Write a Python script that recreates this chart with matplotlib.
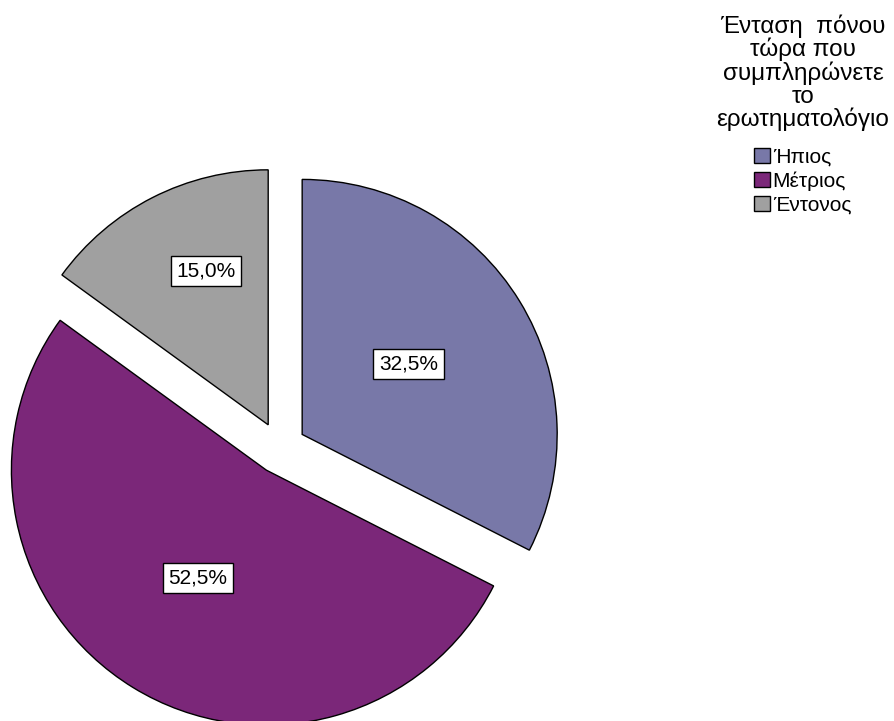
import numpy as np
import matplotlib.pyplot as plt
from matplotlib.patches import Rectangle

plt.rcParams['font.family'] = ['Liberation Sans', 'DejaVu Sans']

title = 'Ένταση  πόνου\nτώρα που\nσυμπληρώνετε\nτο\nερωτηματολόγιο'
categories = ['Ήπιος', 'Μέτριος', 'Έντονος']
percents = [32.5, 52.5, 15.0]
colors = ['#7878a8', '#7b2779', '#a0a0a0']
# where each percent box sits: fraction of radius, angle tweak in degrees
label_dist = [0.5, 0.5, 0.65]
label_turn = [2, -1, -5]

W, H = 894, 721
fig = plt.figure(figsize=(W / 100, H / 100), dpi=100)
ax = fig.add_axes([0, 0, 1, 1])

# pie laid out in pixel units so the sizes are easy to tune
R = 255
wedges, _ = ax.pie(percents, colors=colors, startangle=90, counterclock=False,
                   explode=[26] * 3, radius=R, center=(280, H - 448),
                   wedgeprops=dict(edgecolor='black', linewidth=1))
ax.set_xlim(0, W)
ax.set_ylim(0, H)
ax.set_aspect('equal')
ax.axis('off')

for w, p, d, t in zip(wedges, percents, label_dist, label_turn):
    ang = np.deg2rad((w.theta1 + w.theta2) / 2 + t)
    cx, cy = w.center
    ax.text(cx + d * R * np.cos(ang), cy + d * R * np.sin(ang),
            f'{p:.1f}'.replace('.', ',') + '%', fontsize=15,
            ha='center', va='center',
            bbox=dict(boxstyle='square,pad=0.27', fc='white', ec='black', lw=1))

fig.text(803 / W, 1 - 14 / H, title, fontsize=17.5, ha='center', va='top',
         multialignment='center', linespacing=1.02)

handles = [Rectangle((0, 0), 1, 1, fc=c, ec='black', lw=1) for c in colors]
fig.legend(handles, categories, loc='upper left',
           bbox_to_anchor=(754 / W, 1 - 148 / H), frameon=False, fontsize=15,
           handlelength=0.75, handleheight=0.75, handletextpad=0.15,
           labelspacing=0.22, borderpad=0, borderaxespad=0)

fig.savefig('out.png', dpi=100)
